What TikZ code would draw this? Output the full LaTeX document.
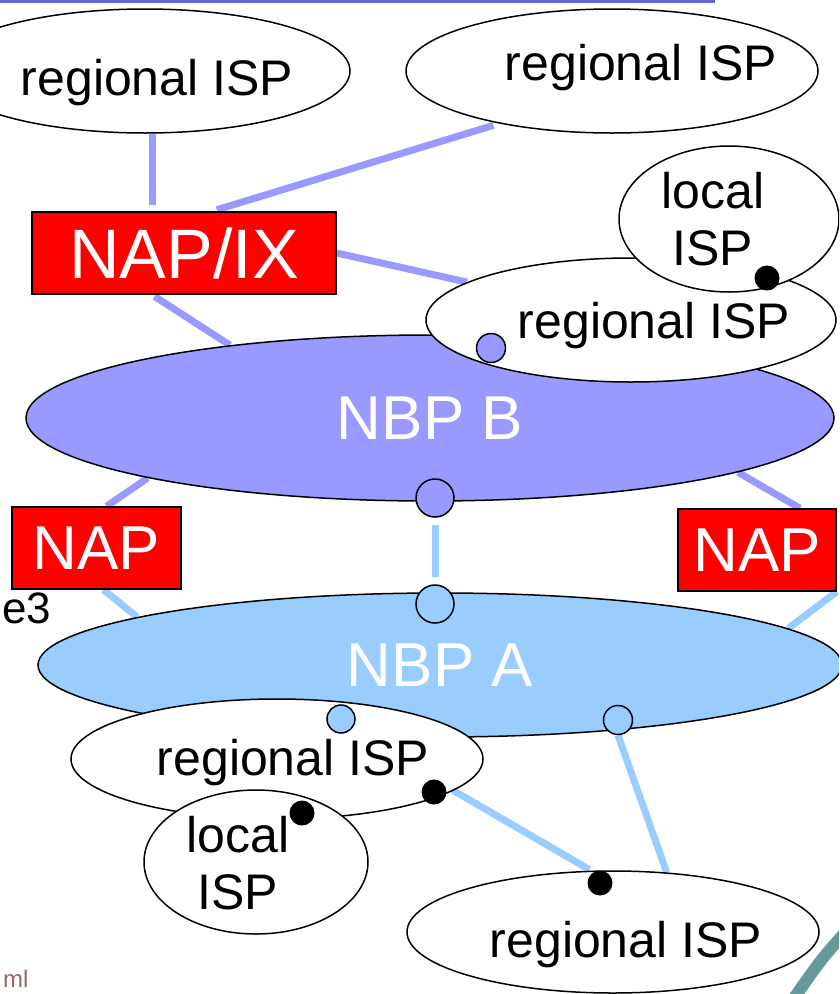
\documentclass[tikz,border=0pt]{standalone}
\usepackage{fontspec}
\setmainfont{Liberation Sans}
\usepackage{tikz}
\usetikzlibrary{shapes.geometric,backgrounds}

\definecolor{nbpBcol}{RGB}{153,153,255}
\definecolor{nbpAcol}{RGB}{153,204,255}
\definecolor{barcol}{RGB}{102,102,204}
\definecolor{ringcol}{RGB}{102,153,153}
\definecolor{urlcol}{RGB}{153,102,102}

\newcommand{\ispsize}{\fontsize{50}{57}\selectfont}
\newcommand{\napsize}{\fontsize{62}{70}\selectfont}
\newcommand{\napixsize}{\fontsize{70}{80}\selectfont}

\tikzset{
	isp/.style={ellipse, draw, line width=1.5pt, fill=white, inner sep=0pt},
	ispname/.style={anchor=base, inner sep=0pt, font=\ispsize},
	localname/.style={align=center, inner sep=0pt, font=\ispsize},
	nbp/.style={ellipse, draw, line width=1.5pt, inner sep=0pt, text=white, font=\napsize},
	nap/.style={rectangle, draw, line width=1.5pt, fill=red, inner sep=0pt, text=white, font=\napsize},
	port/.style={circle, draw, line width=1.5pt, inner sep=0pt},
	host/.style={circle, fill=black, inner sep=0pt, minimum size=25pt},
	linkB/.style={line width=7pt, nbpBcol},
	linkA/.style={line width=7pt, nbpAcol},
}

\begin{document}
\begin{tikzpicture}[x=1pt, y=-1pt]
	\useasboundingbox (0,0) rectangle (839,994);
	\clip (0,0) rectangle (839,994);
	% slide leftovers
	\draw[barcol, line width=3.5pt] (0,1.5) -- (715,1.5);
	\draw[ringcol, line width=12pt] (852,925) .. controls (822,958) .. (790,1004);
	\node[anchor=base west, inner sep=0pt, font=\fontsize{44}{50}\selectfont] (cutthree) at (2,623) {e3};
	\node[anchor=base west, inner sep=0pt, text=urlcol, font=\fontsize{24}{28}\selectfont] (cutml) at (3,987) {ml};
	
	% backbones
	\node[nbp, fill=nbpBcol, minimum width=808pt, minimum height=166pt] (nbpB) at (430,418) {NBP B};
	\node[nbp, fill=nbpAcol, minimum width=804pt, minimum height=144pt] (nbpA) at (440,665) {NBP A};
	
	% ISPs
	\node[isp, minimum width=410pt, minimum height=124pt] (tlISP) at (145,71) {};
	\node[isp, minimum width=412pt, minimum height=124pt] (trISP) at (612,71) {};
	\node[isp, minimum width=410pt, minimum height=124pt] (rISP) at (631,320) {};
	\node[isp, minimum width=220pt, minimum height=146pt] (trLocal) at (729,219) {};
	\node[isp, minimum width=412pt, minimum height=120pt] (llISP) at (277,759) {};
	\node[isp, minimum width=224pt, minimum height=144pt] (llLocal) at (256,862) {};
	\node[isp, minimum width=412pt, minimum height=122pt] (lrISP) at (613,932) {};
	
	\node[ispname] (tlISPname) at (157,95) {regional ISP};
	\node[ispname] (trISPname) at (641,80) {regional ISP};
	\node[ispname] (rISPname) at (654,338) {regional ISP};
	\node[ispname] (llISPname) at (293,775) {regional ISP};
	\node[ispname] (lrISPname) at (626,957) {regional ISP};
	\node[localname] (trLocalname) at (713,219) {local\\ISP};
	\node[localname] (llLocalname) at (238,863) {local\\ISP};
	
	% exchange points
	\node[nap, font=\napixsize, minimum width=304pt, minimum height=82pt] (napix) at (184,253) {NAP/IX};
	\node[nap, minimum width=169pt, minimum height=82pt] (napL) at (96.5,548) {NAP};
	\node[nap, minimum width=158pt, minimum height=82pt] (napR) at (757,550) {NAP};
	
	% ports and hosts
	\node[port, fill=nbpBcol, minimum size=38pt] (dotB) at (435,498) {};
	\node[port, fill=nbpAcol, minimum size=38pt] (dotA) at (435,604) {};
	\node[port, fill=nbpBcol, minimum size=29pt] (dotRB) at (491,348) {};
	\node[port, fill=nbpAcol, minimum size=28pt] (dotAL) at (341,719) {};
	\node[port, fill=nbpAcol, minimum size=29pt] (dotAR) at (618,720) {};
	\node[host] (hostTR) at (767,278) {};
	\node[host] (hostLL) at (434,792) {};
	\node[host] (hostLocal) at (302,813) {};
	\node[host] (hostLR) at (600,883) {};
	
	\begin{scope}[on background layer]
		\draw[linkB] ([xshift=7pt]tlISP.south) -- ([xshift=7pt]tlISP.south |- napix.north) [shorten >=6pt];
		\draw[linkB, shorten <=5pt, shorten >=6pt] ([xshift=28pt]napix.north) -- (trISP.205);
		\draw[linkB] (napix.east) -- (rISP.167);
		\draw[linkB, shorten <=3pt] ([xshift=-32pt]napix.south) -- (nbpB.160);
		\draw[linkB] (nbpB.192) -- ([xshift=10pt]napL.north);
		\draw[linkB] (nbpB.-10) -- ([xshift=43pt]napR.north);
		\draw[linkA, shorten <=7pt, shorten >=7pt] (dotB.south) -- (dotA.north);
		\draw[linkA] ([xshift=7pt]napL.south) -- (nbpA.171);
		\draw[linkA] (napR.south east) -- (nbpA.6);
		\draw[linkA, shorten <=9pt, shorten >=5pt] (hostLL.30) -- (hostLR.120);
		\draw[linkA] (dotAR.south) -- (lrISP.48);
	\end{scope}
\end{tikzpicture}
\end{document}
